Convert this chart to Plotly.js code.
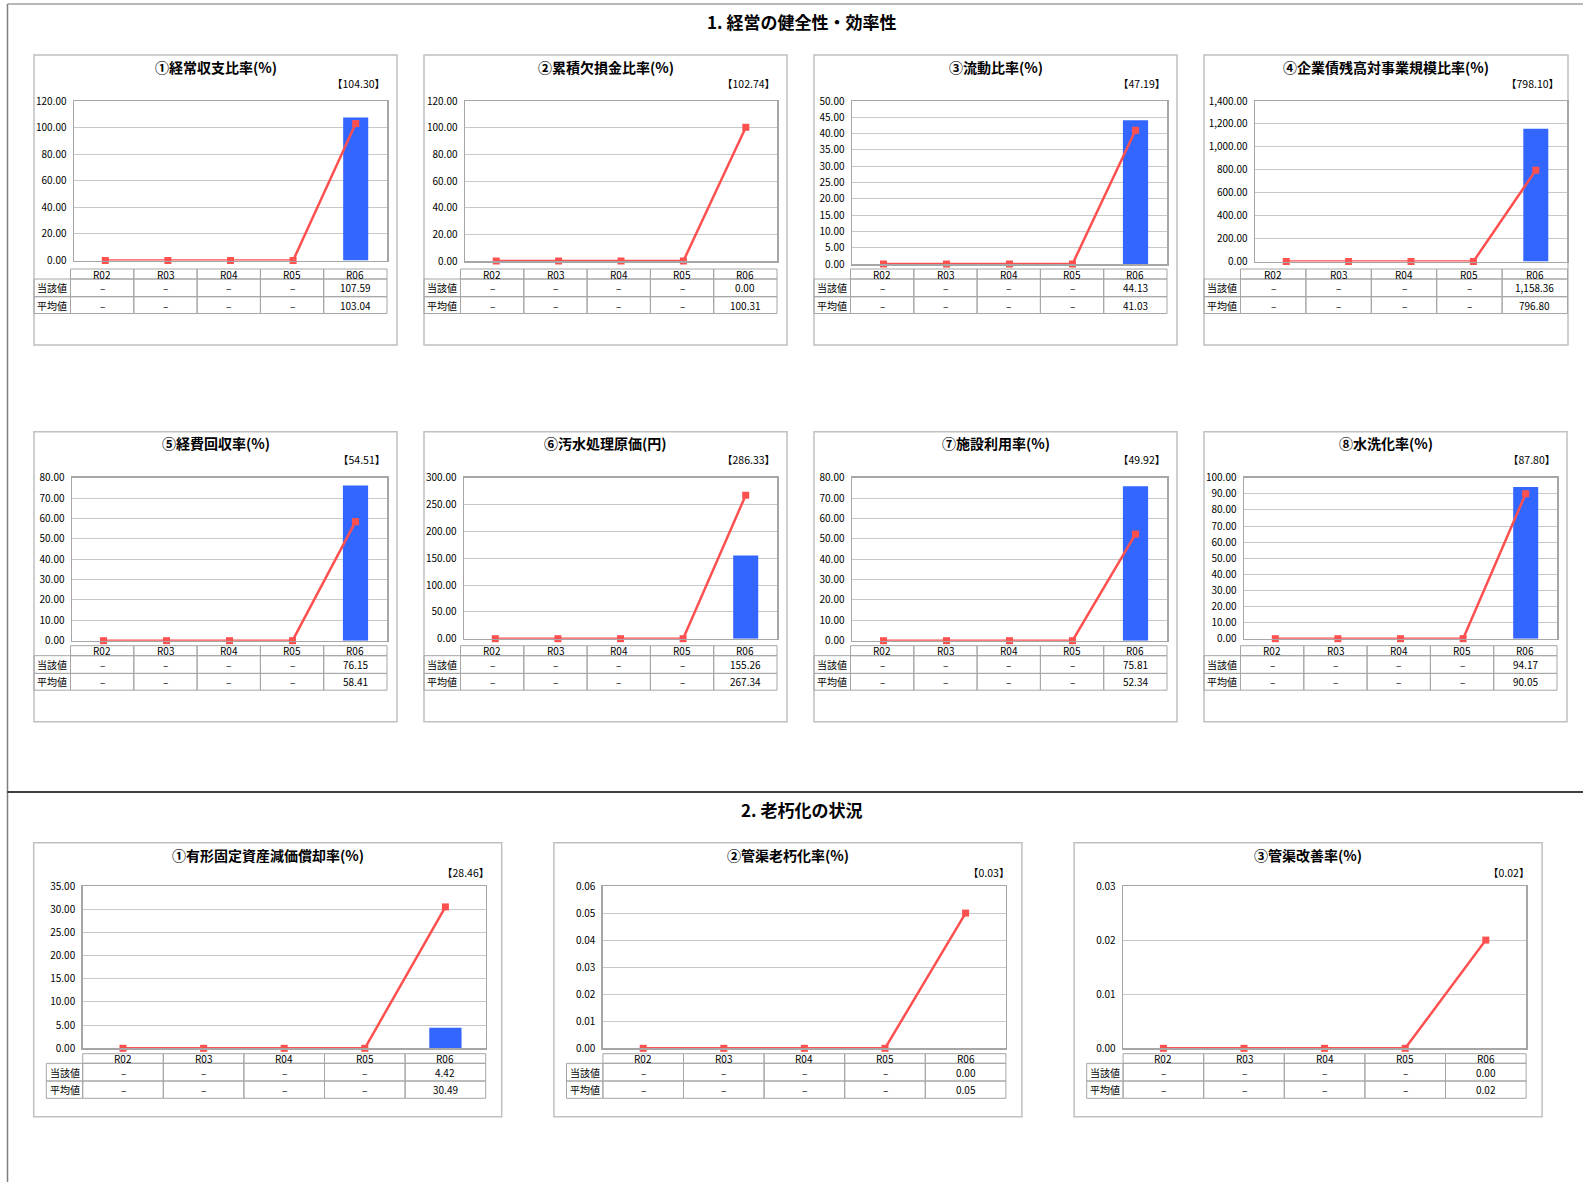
<!DOCTYPE html>
<html>
<head>
<meta charset="utf-8">
<script src="https://cdn.plot.ly/plotly-3.0.1.min.js"></script>
<style>
html,body{margin:0;padding:0;background:#fff;}
#chart{width:1583px;height:1182px;}
</style>
</head>
<body>
<div id="chart"></div>
<script>
// ---------------- DATA ----------------
const categories = ['R02', 'R03', 'R04', 'R05', 'R06'];
const rowLabels = ['当該値', '平均値'];
const sectionTitles = ['1. 経営の健全性・効率性', '2. 老朽化の状況'];
const indicatorTitles = [
  '①経常収支比率(%)',
  '②累積欠損金比率(%)',
  '③流動比率(%)',
  '④企業債残高対事業規模比率(%)',
  '⑤経費回収率(%)',
  '⑥汚水処理原価(円)',
  '⑦施設利用率(%)',
  '⑧水洗化率(%)',
  '①有形固定資産減価償却率(%)',
  '②管渠老朽化率(%)',
  '③管渠改善率(%)'
];
const benchmarkValues = [104.30, 102.74, 47.19, 798.10, 54.51, 286.33, 49.92, 87.80, 28.46, 0.03, 0.02];
const currentValues = [
  [null, null, null, null, 107.59],
  [null, null, null, null, 0.00],
  [null, null, null, null, 44.13],
  [null, null, null, null, 1158.36],
  [null, null, null, null, 76.15],
  [null, null, null, null, 155.26],
  [null, null, null, null, 75.81],
  [null, null, null, null, 94.17],
  [null, null, null, null, 4.42],
  [null, null, null, null, 0.00],
  [null, null, null, null, 0.00]
];
const averageValues = [
  [null, null, null, null, 103.04],
  [null, null, null, null, 100.31],
  [null, null, null, null, 41.03],
  [null, null, null, null, 796.80],
  [null, null, null, null, 58.41],
  [null, null, null, null, 267.34],
  [null, null, null, null, 52.34],
  [null, null, null, null, 90.05],
  [null, null, null, null, 30.49],
  [null, null, null, null, 0.05],
  [null, null, null, null, 0.02]
];
const axisMax = [120, 120, 50, 1400, 80, 300, 80, 100, 35, 0.06, 0.03];
const axisStep = [20, 20, 5, 200, 10, 50, 10, 10, 5, 0.01, 0.01];

// ---------------- LAYOUT HELPERS ----------------
const W = 1583, H = 1182;
const px = x => x / W;
const py = y => 1 - y / H;
const FONT = 'Noto Sans CJK JP, Noto Sans, sans-serif';
const fmt = v => v.toLocaleString('en-US', {minimumFractionDigits: 2, maximumFractionDigits: 2});

function geom(i) {
  if (i < 8) {
    const r = Math.floor(i / 4), c = i % 4;
    const L = 34 + c * 390, T = r === 0 ? 55 : 431.7;
    const wide = i === 3;
    return {
      L, T, w: wide ? 364 : 363, h: 290,
      pl: [40, 41, 38, 51, 38, 40, 38, 40][i], pr: wide ? 363 : 353,
      pt: 46, pb: [205.5, 206, 209, 206.5, 209, 207, 209, 207][i],
      titleY: 11.7, brX: wide ? 357 : 353, brY: 28,
      labL: 0, labR: 36.5, colL: 36.5, colR: wide ? 363.5 : 353,
      rows: [214, 224, 241.7, 258.5]
    };
  } else {
    const j = i - 8;
    const L = 33.7 + j * 520.2, T = 842.7;
    return {
      L, T, w: 468, h: 274,
      pl: 49, pr: 452, pt: 43.3, pb: 205.6,
      titleY: 12.3, brX: 457, brY: 30,
      labL: 12.6, labR: 49, colL: 49, colR: 452,
      rows: [211, 220.6, 238.3, 255.6]
    };
  }
}

const traces = [];
const layout = {
  width: W, height: H,
  margin: {l: 0, r: 0, t: 0, b: 0},
  paper_bgcolor: '#ffffff', plot_bgcolor: '#ffffff',
  showlegend: false,
  font: {family: FONT, size: 10, color: '#000'},
  annotations: [],
  shapes: []
};

const GRID = '#C8C8C8', AXLINE = '#A6A6A6', TABLE = '#A6A6A6', BOX = '#C0C0C0';
const BAR = '#3366FF', LINE = '#FF5050';

indicatorTitles.forEach((title, i) => {
  const g = geom(i);
  const k = i + 1;
  const xa = k === 1 ? 'x' : 'x' + k;
  const ya = k === 1 ? 'y' : 'y' + k;
  const xKey = k === 1 ? 'xaxis' : 'xaxis' + k;
  const yKey = k === 1 ? 'yaxis' : 'yaxis' + k;

  traces.push({
    type: 'bar', x: categories, y: currentValues[i], xaxis: xa, yaxis: ya,
    marker: {color: BAR}, width: 0.4, hoverinfo: 'skip'
  });
  traces.push({
    type: 'scatter', mode: 'lines+markers', x: categories,
    y: averageValues[i].map(v => v === null ? 0 : v), xaxis: xa, yaxis: ya,
    line: {color: LINE, width: 2.5},
    marker: {symbol: 'square', size: 7, color: LINE},
    cliponaxis: false, hoverinfo: 'skip'
  });

  layout[xKey] = {
    domain: [px(g.L + g.pl), px(g.L + g.pr)], anchor: ya,
    type: 'category', range: [-0.5, 4.5],
    showticklabels: false, ticks: '', showgrid: false, zeroline: false,
    showline: true, mirror: true, linecolor: AXLINE, linewidth: 1.5, fixedrange: true
  };
  layout[yKey] = {
    domain: [py(g.T + g.pb), py(g.T + g.pt)], anchor: xa,
    range: [0, axisMax[i] * (1 + 1e-9)], tick0: 0, dtick: axisStep[i],
    tickformat: ',.2f', ticks: '', ticklabelstandoff: 4,
    showgrid: true, gridcolor: GRID, gridwidth: 1, zeroline: false,
    showline: true, mirror: true, linecolor: AXLINE, linewidth: 1.5,
    tickfont: {family: FONT, size: 10, color: '#000'}, fixedrange: true
  };

  // panel box
  layout.shapes.push({
    type: 'rect', xref: 'paper', yref: 'paper', layer: 'below',
    x0: px(g.L), x1: px(g.L + g.w), y0: py(g.T + g.h), y1: py(g.T),
    line: {color: BOX, width: 1.5}
  });

  // title and benchmark
  layout.annotations.push({
    xref: 'paper', yref: 'paper', x: px(g.L + g.w / 2), y: py(g.T + g.titleY),
    xanchor: 'center', yanchor: 'middle', showarrow: false,
    text: '<b>' + title + '</b>', font: {family: FONT, size: 14, color: '#000'}
  });
  layout.annotations.push({
    xref: 'paper', yref: 'paper', x: px(g.L + g.brX), y: py(g.T + g.brY),
    xanchor: 'right', yanchor: 'middle', showarrow: false,
    text: '【' + fmt(benchmarkValues[i]) + '】', font: {family: FONT, size: 10.5, color: '#000'}
  });

  // table
  const colW = (g.colR - g.colL) / categories.length;
  const rows = g.rows;
  const cell = (x0, x1, y0, y1) => layout.shapes.push({
    type: 'rect', xref: 'paper', yref: 'paper', layer: 'above',
    x0: px(g.L + x0), x1: px(g.L + x1), y0: py(g.T + y1), y1: py(g.T + y0),
    line: {color: TABLE, width: 1}
  });
  const txt = (x, y, s) => layout.annotations.push({
    xref: 'paper', yref: 'paper', x: px(g.L + x), y: py(g.T + y),
    xanchor: 'center', yanchor: 'middle', showarrow: false,
    text: s, font: {family: FONT, size: 10, color: '#000'}
  });
  categories.forEach((cat, c) => {
    const x0 = g.colL + c * colW, x1 = x0 + colW, xc = (x0 + x1) / 2;
    cell(x0, x1, rows[0], rows[1]);
    txt(xc, (rows[0] + rows[1]) / 2, cat);
    [currentValues[i], averageValues[i]].forEach((series, r) => {
      cell(x0, x1, rows[r + 1], rows[r + 2]);
      const v = series[c];
      txt(xc, (rows[r + 1] + rows[r + 2]) / 2, v === null ? '–' : fmt(v));
    });
  });
  rowLabels.forEach((lab, r) => {
    cell(g.labL, g.labR, rows[r + 1], rows[r + 2]);
    txt((g.labL + g.labR) / 2, (rows[r + 1] + rows[r + 2]) / 2, lab);
  });
});

// page frame and section headers
layout.shapes.push(
  {type: 'line', xref: 'paper', yref: 'paper', x0: px(7.5), x1: 1, y0: py(4), y1: py(4), line: {color: '#A0A0A0', width: 1.5}},
  {type: 'line', xref: 'paper', yref: 'paper', x0: px(7.5), x1: px(7.5), y0: py(4), y1: 0, line: {color: '#808080', width: 1.5}},
  {type: 'line', xref: 'paper', yref: 'paper', x0: px(7.5), x1: 1, y0: py(792), y1: py(792), line: {color: '#000000', width: 1.5}}
);
[[22, sectionTitles[0]], [809, sectionTitles[1]]].forEach(([y, s]) => {
  layout.annotations.push({
    xref: 'paper', yref: 'paper', x: px(801), y: py(y),
    xanchor: 'center', yanchor: 'middle', showarrow: false,
    text: '<b>' + s + '</b>', font: {family: FONT, size: 17, color: '#000'}
  });
});

Plotly.newPlot('chart', traces, layout, {displayModeBar: false, staticPlot: true});
</script>
</body>
</html>
